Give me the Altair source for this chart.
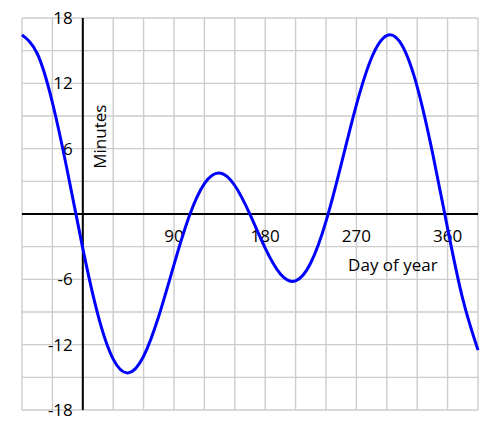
import altair as alt
import pandas as pd

days = [-60, -45, -30, -15, 0, 15, 30, 45, 60, 75, 90, 105, 120, 135, 150, 165,
        180, 195, 210, 225, 240, 255, 270, 285, 300, 315, 330, 345, 360, 375, 390]
minutes = [16.45, 14.74, 10.24, 3.84, -3.16, -9.29, -13.33, -14.59, -13.06, -9.37,
           -4.65, -0.21, 2.79, 3.76, 2.62, -0.04, -3.14, -5.51, -6.14, -4.48,
           -0.68, 4.56, 10.02, 14.35, 16.39, 15.49, 11.68, 5.67, -1.32, -7.82, -12.50]

x_ticks = [90, 180, 270, 360]
y_ticks = [18, 12, 6, -6, -12, -18]
x_grid = list(range(-60, 391, 30))
y_grid = list(range(-18, 19, 3))

FONT = "Open Sans"
FS = 17

curve_df = pd.DataFrame({"day": days, "min": minutes})
xt_df = pd.DataFrame({"day": x_ticks, "min": [0] * len(x_ticks), "label": [str(v) for v in x_ticks]})
yt_df = pd.DataFrame({"day": [0] * len(y_ticks), "min": y_ticks, "label": [str(v) for v in y_ticks]})

xs = alt.Scale(domain=[-60, 390], nice=False, zero=False)
ys = alt.Scale(domain=[-18, 18], nice=False, zero=False)
noax = None

vgrid = alt.Chart(pd.DataFrame({"day": x_grid})).mark_rule(color="#cccccc", strokeWidth=1.4).encode(
    x=alt.X("day:Q", scale=xs, axis=None)
)
hgrid = alt.Chart(pd.DataFrame({"min": y_grid})).mark_rule(color="#cccccc", strokeWidth=1.4).encode(
    y=alt.Y("min:Q", scale=ys, axis=None)
)

xline = alt.Chart(pd.DataFrame({"min": [0]})).mark_rule(color="black", strokeWidth=2).encode(
    y=alt.Y("min:Q", scale=ys, axis=None)
)
yline = alt.Chart(pd.DataFrame({"day": [0]})).mark_rule(color="black", strokeWidth=2).encode(
    x=alt.X("day:Q", scale=xs, axis=None)
)

xlabels = alt.Chart(xt_df).mark_text(font=FONT, fontSize=FS, align="center",
                                     baseline="alphabetic", dy=28, color="black").encode(
    x=alt.X("day:Q", scale=xs, axis=None), y=alt.Y("min:Q", scale=ys, axis=None), text="label:N"
)
ylabels = alt.Chart(yt_df).mark_text(font=FONT, fontSize=FS, align="right",
                                     baseline="alphabetic", dx=-10, dy=6, color="black").encode(
    x=alt.X("day:Q", scale=xs, axis=None), y=alt.Y("min:Q", scale=ys, axis=None), text="label:N"
)

titles_df = pd.DataFrame({"day": [306], "min": [-4.8], "label": ["Day of year"]})
xtitle = alt.Chart(titles_df).mark_text(font=FONT, fontSize=FS, align="center",
                                        baseline="middle", color="black").encode(
    x=alt.X("day:Q", scale=xs, axis=None), y=alt.Y("min:Q", scale=ys, axis=None), text="label:N"
)
ytitle_df = pd.DataFrame({"day": [17.5], "min": [7.1], "label": ["Minutes"]})
ytitle = alt.Chart(ytitle_df).mark_text(font=FONT, fontSize=FS, align="center",
                                        baseline="middle", angle=270, color="black").encode(
    x=alt.X("day:Q", scale=xs, axis=None), y=alt.Y("min:Q", scale=ys, axis=None), text="label:N"
)

curve = alt.Chart(curve_df).mark_line(color="#0000ff", strokeWidth=3, interpolate="natural").encode(
    x=alt.X("day:Q", scale=xs, axis=None), y=alt.Y("min:Q", scale=ys, axis=None)
)

chart = alt.layer(vgrid, hgrid, xline, yline, xlabels, ylabels, xtitle, ytitle, curve).properties(
    width=456, height=392,
    autosize=alt.AutoSizeParams(type="none"),
    padding={"left": 14, "top": 10, "right": 14, "bottom": 11},
).configure_view(strokeWidth=0)

chart.save("out.html", embed_options={"renderer": "svg", "actions": False})
